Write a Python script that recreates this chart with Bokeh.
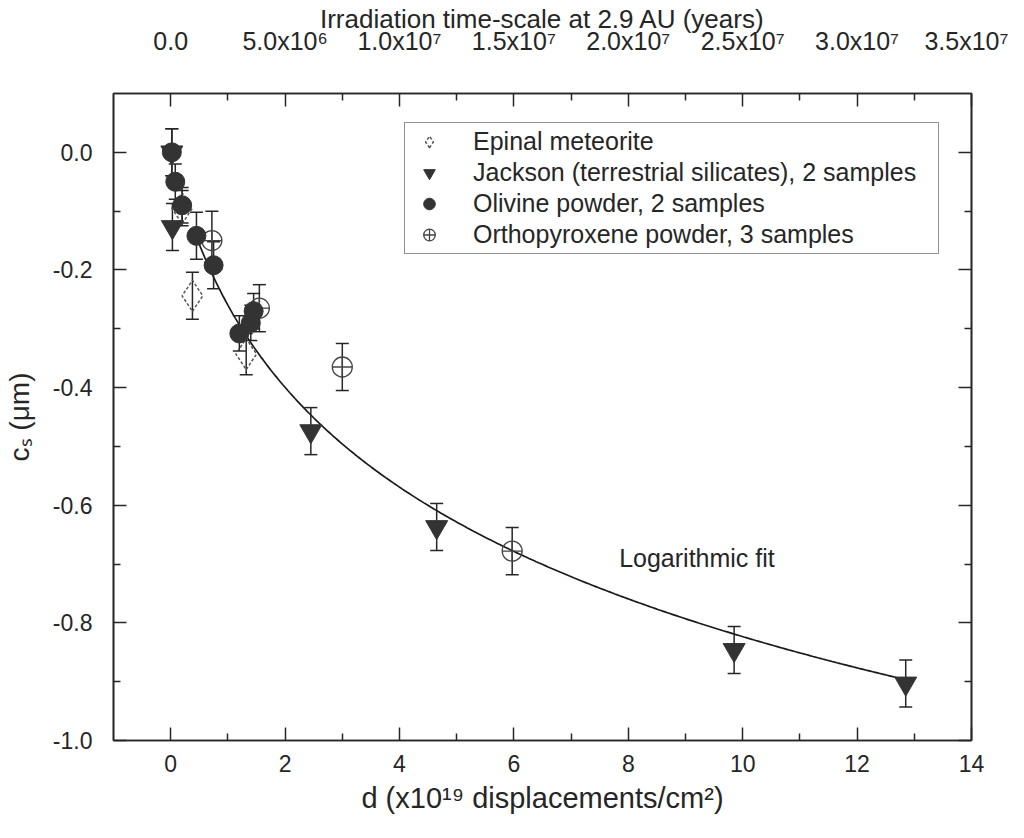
import numpy as np
from bokeh.plotting import figure
from bokeh.models import (LinearAxis, FixedTicker, PrintfTickFormatter, Legend,
                          LegendItem, Label)
from bokeh.embed import file_html
from bokeh.resources import INLINE

# ---------------- data ----------------
epinal_d = [0.20, 0.38, 1.32]
epinal_c = [-0.095, -0.244, -0.343]
epinal_err = [0.03, 0.04, 0.035]

jackson_d = [0.02, 0.03, 2.45, 4.65, 9.85, 12.85]
jackson_c = [0.0, -0.127, -0.474, -0.637, -0.846, -0.903]
jackson_err = [0.04, 0.04, 0.04, 0.04, 0.04, 0.04]

olivine_d = [0.02, 0.08, 0.20, 0.45, 0.75, 1.20, 1.40, 1.45]
olivine_c = [0.0, -0.05, -0.09, -0.142, -0.192, -0.308, -0.29, -0.27]
olivine_err = [0.04, 0.03, 0.03, 0.04, 0.04, 0.03, 0.03, 0.03]

ortho_d = [0.72, 1.55, 3.0, 5.97]
ortho_c = [-0.15, -0.265, -0.365, -0.678]
ortho_err = [0.05, 0.04, 0.04, 0.04]

# logarithmic fit  c = -A * ln(1 + B*d)
fit_a = 0.312
fit_b = 1.3
fit_d_start = 0.42
fit_d_end = 12.9

x_ticks = [0, 2, 4, 6, 8, 10, 12, 14]
x_minor = [1, 3, 5, 7, 9, 11, 13]
top_labels = ["0.0", "5.0x10⁶", "1.0x10⁷", "1.5x10⁷", "2.0x10⁷",
              "2.5x10⁷", "3.0x10⁷", "3.5x10⁷"]
y_ticks = [-1.0, -0.8, -0.6, -0.4, -0.2, 0.0]
y_minor = [-0.9, -0.7, -0.5, -0.3, -0.1]

FONT = "Liberation Sans"
INK = "#262626"
MARK = "#333333"

p = figure(width=1008, height=826, x_range=(-1, 14), y_range=(-1.0, 0.1),
           output_backend="svg", toolbar_location=None,
           min_border_left=109, min_border_right=37,
           min_border_top=92, min_border_bottom=86)
p.grid.visible = False
p.outline_line_color = INK
p.outline_line_width = 1.6
p.background_fill_color = "white"
p.border_fill_color = "white"


def style_axis(ax, label_size="23px"):
    ax.axis_line_color = INK
    ax.axis_line_width = 1.6
    ax.major_tick_line_color = INK
    ax.minor_tick_line_color = INK
    ax.major_tick_line_width = 1.5
    ax.minor_tick_line_width = 1.5
    ax.major_tick_in = 13
    ax.major_tick_out = 0
    ax.minor_tick_in = 7
    ax.minor_tick_out = 0
    ax.major_label_text_font = FONT
    ax.major_label_text_font_size = label_size
    ax.major_label_text_color = INK
    ax.axis_label_text_font = FONT
    ax.axis_label_text_font_style = "normal"
    ax.axis_label_text_color = INK


xt = FixedTicker(ticks=x_ticks, minor_ticks=x_minor)
yt = FixedTicker(ticks=y_ticks, minor_ticks=y_minor)

bx = p.xaxis[0]
bx.ticker = xt
style_axis(bx)
bx.axis_label = "d (x10¹⁹ displacements/cm²)"
bx.axis_label_text_font_size = "29px"
bx.major_label_standoff = 14
bx.axis_label_standoff = 7

ly = p.yaxis[0]
ly.ticker = yt
ly.formatter = PrintfTickFormatter(format="%.1f")
style_axis(ly)
ly.axis_label = "cₛ (μm)"
ly.axis_label_text_font_size = "28px"
ly.major_label_standoff = 21
ly.axis_label_standoff = 15

top = LinearAxis(ticker=FixedTicker(ticks=x_ticks, minor_ticks=x_minor),
                 major_label_overrides={t: s for t, s in zip(x_ticks, top_labels)})
style_axis(top, "25px")
top.axis_label = "Irradiation time-scale at 2.9 AU (years)"
top.axis_label_text_font_size = "26px"
top.major_label_standoff = 39
top.axis_label_standoff = -10
p.add_layout(top, "above")

right = LinearAxis(ticker=FixedTicker(ticks=y_ticks, minor_ticks=y_minor),
                   major_label_overrides={t: "" for t in y_ticks})
style_axis(right)
p.add_layout(right, "right")

# ---------------- fit curve ----------------
fd = np.linspace(fit_d_start, fit_d_end, 300)
fc = -fit_a * np.log(1 + fit_b * fd)
p.line(fd, fc, line_color="#1a1a1a", line_width=1.7)


# ---------------- error bars ----------------
def errorbars(d, c, e):
    lo = [ci - ei for ci, ei in zip(c, e)]
    hi = [ci + ei for ci, ei in zip(c, e)]
    p.segment(x0=d, y0=lo, x1=d, y1=hi, line_color=INK, line_width=1.5)
    p.scatter(x=d + d, y=lo + hi, marker="dash", size=13,
              line_color=INK, line_width=1.5)


errorbars(epinal_d, epinal_c, epinal_err)
errorbars(ortho_d, ortho_c, ortho_err)
errorbars(jackson_d, jackson_c, jackson_err)
errorbars(olivine_d, olivine_c, olivine_err)

# ---------------- markers ----------------
r_ep = p.scatter(epinal_d, epinal_c, marker="diamond", size=31,
                 fill_color=None, line_color="#4d4d4d", line_width=1.4,
                 line_dash="3 2")
r_or = p.scatter(ortho_d, ortho_c, marker="circle_cross", size=20,
                 fill_color=None, line_color="#444444", line_width=1.3)
r_ja = p.scatter(jackson_d, jackson_c, marker="inverted_triangle", size=22,
                 fill_color=MARK, line_color=MARK)
r_ol = p.scatter(olivine_d, olivine_c, marker="circle", size=19,
                 fill_color=MARK, line_color=MARK)

legend = Legend(items=[
    LegendItem(label="Epinal meteorite", renderers=[r_ep]),
    LegendItem(label="Jackson (terrestrial silicates), 2 samples", renderers=[r_ja]),
    LegendItem(label="Olivine powder, 2 samples", renderers=[r_ol]),
    LegendItem(label="Orthopyroxene powder, 3 samples", renderers=[r_or]),
], location=(291, 486))
legend.label_text_font = FONT
legend.label_text_font_size = "25px"
legend.label_text_color = INK
legend.label_height = 29
legend.label_width = 461
legend.glyph_height = 29
legend.glyph_width = 40
legend.label_standoff = 24
legend.spacing = 2
legend.padding = 4
legend.margin = 0
legend.border_line_color = INK
legend.border_line_width = 1.2
legend.background_fill_alpha = 1.0
p.add_layout(legend, "center")

p.add_layout(Label(x=7.84, y=-0.69, text="Logarithmic fit", text_font=FONT,
                   text_font_size="25px", text_color=INK,
                   text_baseline="middle"))

open("out.html", "w").write(file_html(p, INLINE))
